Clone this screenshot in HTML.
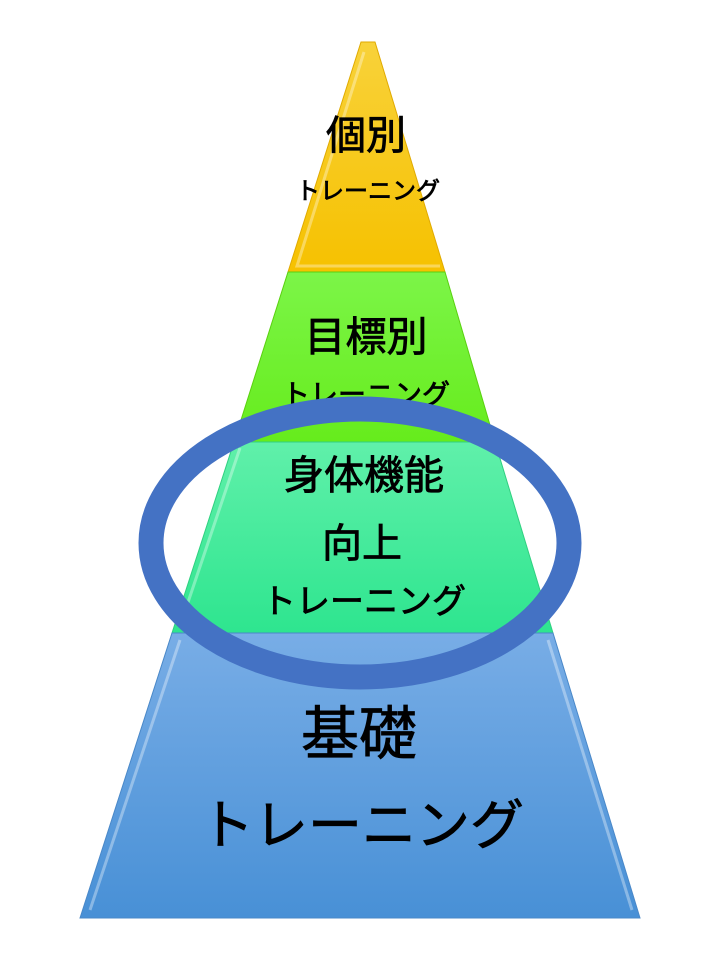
<!DOCTYPE html>
<html><head><meta charset="utf-8"><style>
html,body{margin:0;padding:0;background:#fff;}
svg text{font-family:"Liberation Sans","Noto Sans CJK JP",sans-serif;fill:#000;text-anchor:middle;}
</style></head><body>
<svg width="720" height="960" viewBox="0 0 720 960" xmlns="http://www.w3.org/2000/svg">
<defs>
<linearGradient id="gy" x1="0" y1="0" x2="0" y2="1"><stop offset="0" stop-color="#f8d23a"/><stop offset="1" stop-color="#f6c100"/></linearGradient>
<linearGradient id="gg" x1="0" y1="0" x2="0" y2="1"><stop offset="0" stop-color="#7cf548"/><stop offset="1" stop-color="#66ec1c"/></linearGradient>
<linearGradient id="gt" x1="0" y1="0" x2="0" y2="1"><stop offset="0" stop-color="#60f0aa"/><stop offset="1" stop-color="#2ee58f"/></linearGradient>
<linearGradient id="gb" x1="0" y1="0" x2="0" y2="1"><stop offset="0" stop-color="#78ade6"/><stop offset="1" stop-color="#4890d6"/></linearGradient>
</defs>
<polygon points="361,42 375,42 445,272 288,272" fill="url(#gy)" stroke="#e0aa00" stroke-width="1"/>
<polygon points="288,272 445,272 495,442 234,442" fill="url(#gg)" stroke="#5ad010" stroke-width="1"/>
<polygon points="234,442 495,442 553,633 172,633" fill="url(#gt)" stroke="#30d080" stroke-width="1"/>
<polygon points="172,633 553,633 640,918 80,918" fill="url(#gb)" stroke="#4a88c8" stroke-width="1"/>
<g fill="none" stroke="#ffffff" stroke-opacity="0.35" stroke-width="3">
<polyline points="364,52 297,266 440,266"/>
<polyline points="240,448 180,626"/>
<polyline points="180,640 90,910"/>
<polyline points="548,640 632,910"/>
</g>
<g stroke="#000" stroke-width="0.8">
<text x="366" y="149" font-size="40">個別</text>
<text x="368" y="199" font-size="24">トレーニング</text>
<text x="366" y="351" font-size="41">目標別</text>
<text x="366" y="404" font-size="28">トレーニング</text>
<text x="364" y="489" font-size="40">身体機能</text>
<text x="362" y="557" font-size="40">向上</text>
<text x="364" y="613" font-size="34">トレーニング</text>
<text x="359" y="754" font-size="58">基礎</text>
<text x="362" y="844" font-size="54">トレーニング</text>
</g>
<ellipse cx="360" cy="543" rx="209" ry="134" fill="none" stroke="#4472c4" stroke-width="25"/>
</svg>
</body></html>
